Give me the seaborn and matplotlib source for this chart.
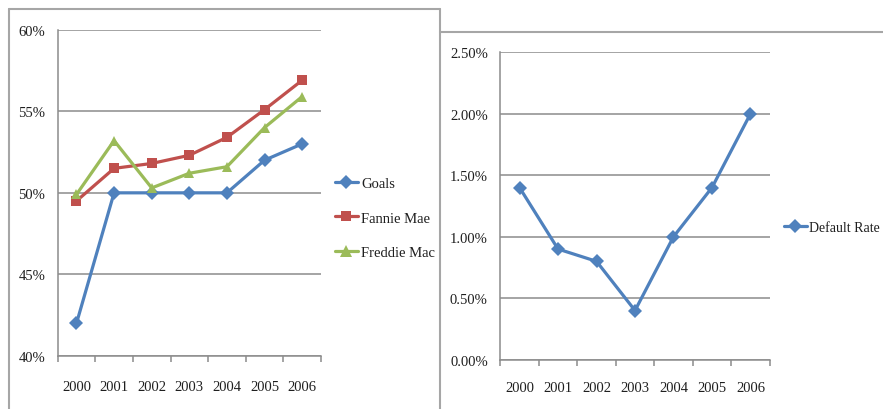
import matplotlib
matplotlib.use("Agg")
import matplotlib.pyplot as plt
from matplotlib.ticker import PercentFormatter, FixedLocator
from matplotlib.lines import Line2D
import seaborn as sns
import pandas as pd

# --- data -------------------------------------------------------------
years = [2000, 2001, 2002, 2003, 2004, 2005, 2006]
goals = [42.0, 50.0, 50.0, 50.0, 50.0, 52.0, 53.0]
fannie_mae = [49.5, 51.5, 51.8, 52.3, 53.4, 55.1, 56.9]
freddie_mac = [49.9, 53.2, 50.3, 51.2, 51.6, 54.0, 55.9]
default_rate = [1.4, 0.9, 0.8, 0.4, 1.0, 1.4, 2.0]

series_names = ["Goals", "Fannie Mae", "Freddie Mac"]
series_values = [goals, fannie_mae, freddie_mac]

blue, red, green = "#4F81BD", "#C0504D", "#9BBB59"
grid_grey = "#8C8C8C"
text_col = "#1f1f1f"
FS = 10.5
LW = 2.3

sns.set_theme(style="white")
plt.rcParams["font.family"] = ["Liberation Serif", "DejaVu Serif"]
plt.rcParams["font.size"] = FS

shares = pd.DataFrame({
    "year": years * len(series_names),
    "share": [v for vals in series_values for v in vals],
    "series": [n for n in series_names for _ in years],
})
defaults = pd.DataFrame({"year": years, "rate": default_rate,
                         "series": ["Default Rate"] * len(years)})

fig = plt.figure(figsize=(8.83, 4.10), dpi=100)
fig.patch.set_facecolor("white")

ax1 = fig.add_axes([0.0653, 0.1293, 0.2982, 0.7959])
ax2 = fig.add_axes([0.5666, 0.1202, 0.3051, 0.7498])

palette = {"Goals": blue, "Fannie Mae": red, "Freddie Mac": green}
markers = {"Goals": "D", "Fannie Mae": "s", "Freddie Mac": "^"}
msizes = {"Goals": 7, "Fannie Mae": 7, "Freddie Mac": 8}

sns.lineplot(data=shares, x="year", y="share", hue="series", style="series",
             palette=palette, markers=markers, dashes=False, linewidth=LW,
             markersize=7, markeredgewidth=0, ax=ax1, legend=False,
             hue_order=series_names, style_order=series_names)

sns.lineplot(data=defaults, x="year", y="rate", hue="series", style="series",
             palette={"Default Rate": blue}, markers={"Default Rate": "D"},
             dashes=False, linewidth=LW, markersize=7, markeredgewidth=0,
             ax=ax2, legend=False)


def style_axis(ax, ylim, yticks, decimals, xpad):
    ax.set_xlim(years[0] - 0.5, years[-1] + 0.5)
    ax.set_ylim(*ylim)
    ax.set_yticks(yticks)
    ax.yaxis.set_major_formatter(PercentFormatter(xmax=100, decimals=decimals))
    ax.set_xticks(years)
    ax.set_xticklabels([str(y) for y in years])
    ax.xaxis.set_minor_locator(FixedLocator([y + 0.5 for y in [years[0] - 1] + years]))
    ax.set_xlabel("")
    ax.set_ylabel("")
    ax.grid(False)
    for y in yticks:
        ax.axhline(y, color=grid_grey, linewidth=1.1, zorder=0)
    for side in ("top", "right"):
        ax.spines[side].set_visible(False)
    for side in ("left", "bottom"):
        ax.spines[side].set_color(grid_grey)
        ax.spines[side].set_linewidth(1.1)
    ax.tick_params(axis="x", which="major", length=0, pad=xpad, labelsize=FS,
                   labelcolor=text_col)
    ax.tick_params(axis="x", which="minor", bottom=True, length=4, width=1.1,
                   color=grid_grey, direction="out")
    ax.tick_params(axis="y", length=0, pad=9, labelsize=FS, labelcolor=text_col)
    ax.set_facecolor("white")


style_axis(ax1, (40, 60), [40, 45, 50, 55, 60], 0, 17)
style_axis(ax2, (0, 2.5), [0, 0.5, 1.0, 1.5, 2.0, 2.5], 2, 15)

# legends
h1 = [Line2D([0], [0], color=palette[n], marker=markers[n], linewidth=LW,
             markersize=msizes[n], markeredgewidth=0) for n in series_names]
fig.legend(h1, series_names, loc="upper left", bbox_to_anchor=(0.379, 0.566),
           frameon=False, handlelength=1.6, handletextpad=0.2,
           labelspacing=1.45, fontsize=FS, labelcolor=text_col,
           borderaxespad=0, borderpad=0)

h2 = [Line2D([0], [0], color=blue, marker="D", linewidth=LW, markersize=7,
             markeredgewidth=0)]
fig.legend(h2, ["Default Rate"], loc="center left",
           bbox_to_anchor=(784 / 883, 1 - 228 / 410), frameon=False,
           handlelength=1.65, handletextpad=0.15, fontsize=10,
           labelcolor=text_col, borderaxespad=0, borderpad=0)

# panel frames
frame = dict(color="#A6A6A6", linewidth=1.5, transform=fig.transFigure)
fig.add_artist(Line2D([9 / 883, 9 / 883], [0, 1 - 10 / 410], **frame))
fig.add_artist(Line2D([9 / 883, 440 / 883], [1 - 10 / 410, 1 - 10 / 410], **frame))
fig.add_artist(Line2D([440 / 883, 440 / 883], [0, 1 - 10 / 410], **frame))
fig.add_artist(Line2D([440 / 883, 1], [1 - 33 / 410, 1 - 33 / 410], **frame))

fig.savefig("out.png", dpi=100, facecolor="white")
